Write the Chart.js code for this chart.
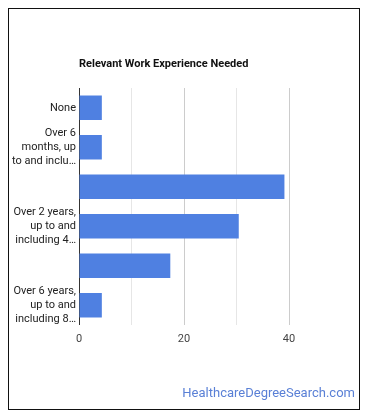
<!DOCTYPE html>
<html>
<head>
<meta charset="utf-8">
<script src="https://cdn.jsdelivr.net/npm/chart.js@4/dist/chart.umd.min.js"></script>
<style>
  body { margin: 0; background: #fff; }
  #wrap { position: relative; width: 370px; height: 417px; }
  #frame { position: absolute; left: 8px; top: 8px; width: 352px; height: 402px; box-sizing: border-box; border: 1.5px solid #111; }
  #title { position: absolute; left: 79px; top: 57px; font: bold 11px Roboto, sans-serif; color: #111; }
  #brand { position: absolute; right: 15px; top: 385px; font: 13px Roboto, sans-serif; color: #5a80d6; }
  canvas { position: absolute; left: 0; top: 0; }
</style>
</head>
<body>
<div id="wrap">
  <div id="frame"></div>
  <canvas id="chart" width="370" height="417"></canvas>
  <div id="title">Relevant Work Experience Needed</div>
  <div id="brand">HealthcareDegreeSearch.com</div>
</div>
<script>
// Categories (full names) and the labels Google showed on the axis
const categories = [
  'None',
  'Over 6 months, up to and including 1 year',
  'Over 1 year, up to and including 2 years',
  'Over 2 years, up to and including 4 years',
  'Over 4 years, up to and including 6 years',
  'Over 6 years, up to and including 8 years'
];
const tickLabels = [
  ['None'],
  ['Over 6', 'months, up', 'to and inclu…'],
  '',
  ['Over 2 years,', 'up to and', 'including 4…'],
  '',
  ['Over 6 years,', 'up to and', 'including 8…']
];
const percents = [4.35, 4.35, 39.13, 30.43, 17.39, 4.35];
const xTicks = [0, 10, 20, 30, 40];

const ctx = document.getElementById('chart').getContext('2d');
new Chart(ctx, {
  type: 'bar',
  data: {
    labels: categories,
    datasets: [{
      data: percents,
      backgroundColor: '#4f80e1',
      categoryPercentage: 1,
      barPercentage: 0.62
    }]
  },
  options: {
    indexAxis: 'y',
    responsive: false,
    animation: false,
    layout: { padding: { left: 0, right: 81, top: 88, bottom: 67 } },
    plugins: { legend: { display: false }, tooltip: { enabled: false } },
    scales: {
      x: {
        min: 0,
        max: 40,
        afterBuildTicks: s => { s.ticks = xTicks.map(v => ({ value: v })); },
        afterFit: s => { s.height = 25; },
        border: { display: false },
        grid: {
          drawTicks: false,
          color: c => c.tick.value === 0 ? '#333' : (c.tick.value % 20 === 0 ? '#cccccc' : '#e6e6e6')
        },
        ticks: {
          padding: 8,
          color: '#444',
          font: { family: 'Roboto', size: 11 },
          callback: v => v % 20 === 0 ? v : ''
        }
      },
      y: {
        afterFit: s => { s.width = 79; },
        border: { display: false },
        grid: { display: false, drawTicks: false },
        ticks: {
          autoSkip: false,
          padding: 3,
          color: '#222',
          font: { family: 'Roboto', size: 11, lineHeight: 1.27 },
          callback: (v, i) => tickLabels[i]
        }
      }
    }
  }
});
</script>
</body>
</html>
